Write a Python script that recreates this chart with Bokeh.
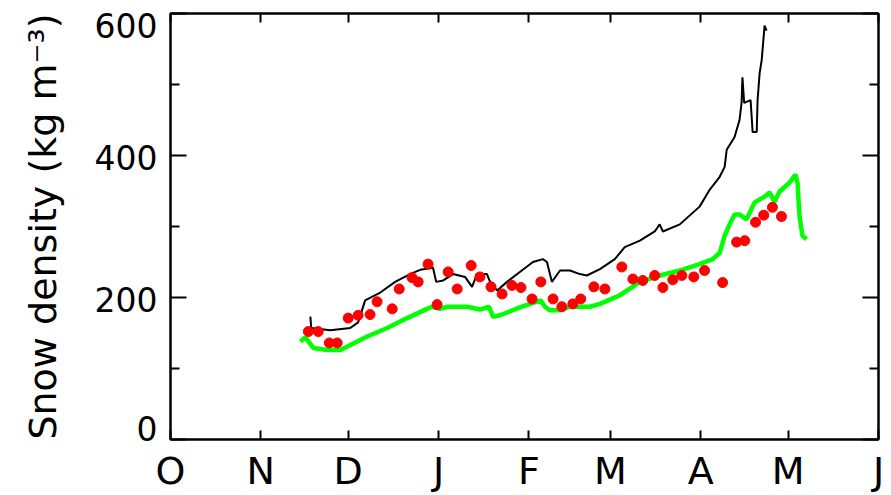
from bokeh.plotting import figure
from bokeh.models import Range1d, LinearAxis, FixedTicker
from bokeh.embed import file_html
from bokeh.resources import INLINE

# ---- data (days since 1 October) ----
month_ticks = [0, 31, 61, 92, 123, 151, 182, 212, 243]
month_labels = ["O", "N", "D", "J", "F", "M", "A", "M", "J"]
y_major = [0, 200, 400, 600]
y_major_labels = ["0", "200", "400", "600"]
y_minor = [100, 300, 500]

model_black_day = [48.0, 48.3, 54.8, 61.7, 64.4, 66.8, 72.0, 77.1, 82.2, 85.7, 90.1, 91.2,
                   93.6, 97.0, 101.1, 103.5, 105.2, 108.6, 109.7, 112.1, 115.5, 119.9, 124.4,
                   127.8, 129.2, 130.9, 133.7, 137.1, 140.5, 142.9, 147.4, 152.5, 155.9, 161.1,
                   166.2, 167.9, 169.0, 174.8, 181.6, 185.1, 188.5, 190.2, 190.9, 193.6, 195.3,
                   196.0, 196.3, 196.9, 199.1, 199.8, 201.2, 201.5, 202.2, 202.9, 203.9, 204.6]
model_black_val = [173, 157, 154, 157, 165, 196, 207, 222, 233, 239, 242, 222,
                   224, 233, 229, 215, 233, 233, 222, 210, 222, 236, 250,
                   254, 250, 222, 238, 238, 233, 231, 240, 254, 271, 280,
                   293, 303, 293, 303, 328, 352, 370, 384, 408, 426, 450,
                   474, 510, 474, 478, 433, 433, 478, 516, 534, 583, 576]

model_green_day = [44.6, 46.3, 49.0, 53.8, 58.3, 60.7, 67.5, 74.4, 81.2, 88.1, 89.8, 92.5,
                   94.9, 101.8, 106.2, 109.3, 110.7, 113.1, 119.9, 123.4, 127.1, 128.5, 130.2,
                   133.7, 137.1, 143.9, 147.4, 154.2, 161.1, 167.9, 174.8, 181.6, 186.1, 188.5,
                   190.2, 191.9, 193.6, 195.3, 197.7, 200.5, 203.9, 205.6, 207.3, 209.0, 212.5,
                   214.5, 215.2, 215.9, 216.9, 218.3]
model_green_val = [138, 144, 129, 126, 126, 131, 145, 157, 171, 184, 187, 184,
                   187, 187, 183, 187, 173, 175, 186, 191, 196, 187, 182,
                   182, 187, 187, 191, 203, 222, 231, 238, 247, 254, 263,
                   287, 303, 317, 317, 310, 334, 342, 348, 335, 349, 362,
                   373, 362, 314, 287, 282]

obs_day = [47.3, 50.7, 54.5, 57.2, 61.0, 64.4, 68.5, 70.9, 76.1, 78.5, 82.9, 85.0, 88.4,
           91.5, 95.3, 98.4, 103.2, 106.2, 110.0, 113.8, 117.2, 120.3, 124.1, 127.1, 131.3,
           134.3, 138.1, 140.8, 145.3, 149.1, 154.9, 158.7, 162.1, 166.2, 169.0, 172.4,
           175.5, 179.6, 183.3, 189.5, 194.3, 197.1, 200.8, 203.6, 206.6, 209.7]
obs_val = [152, 152, 136, 136, 171, 175, 176, 194, 184, 212, 228, 222, 247,
           190, 236, 212, 245, 229, 215, 205, 217, 214, 198, 222, 198,
           187, 191, 198, 215, 212, 243, 226, 224, 231, 214, 225,
           231, 229, 238, 221, 278, 280, 306, 316, 327, 314]

FONT = "DejaVu Sans"
X0, X1 = month_ticks[0], month_ticks[-1]
Y0, Y1 = y_major[0], y_major[-1]

W, H = 891, 495
BL, BR, BT, BB = 170, 13, 13, 53

p = figure(width=W, height=H, output_backend="svg", toolbar_location=None,
           x_range=Range1d(X0, X1), y_range=Range1d(Y0, Y1),
           min_border_left=BL, min_border_right=BR, min_border_top=BT, min_border_bottom=BB)
p.grid.visible = False
p.background_fill_color = "white"
p.border_fill_color = "white"
p.outline_line_color = "black"
p.outline_line_width = 2

xt = FixedTicker(ticks=month_ticks, minor_ticks=[])
yt = FixedTicker(ticks=y_major, minor_ticks=y_minor)

xa = p.xaxis[0]
xa.ticker = xt
xa.major_label_overrides = {t: l for t, l in zip(month_ticks, month_labels)}
xa.major_tick_in = 9
xa.major_tick_out = 0
xa.minor_tick_in = 0
xa.minor_tick_out = 0
xa.axis_line_width = 2
xa.major_tick_line_width = 2
xa.major_label_standoff = 9
xa.major_label_text_font = FONT
xa.major_label_text_font_size = "38px"
xa.major_label_text_color = "black"

# left axis: tick marks only
ya = p.yaxis[0]
ya.ticker = yt
ya.major_tick_in = 16
ya.major_tick_out = 0
ya.minor_tick_in = 9
ya.minor_tick_out = 0
ya.axis_line_width = 2
ya.major_tick_line_width = 2
ya.minor_tick_line_width = 2
ya.major_label_overrides = {t: "" for t in y_major}
ya.major_label_standoff = 0

# second left axis: tick labels (end labels kept within the frame height) + axis title
px_per_unit = (H - BT - BB) / (Y1 - Y0)
def _shift_px(v):
    if v == Y1:
        return -12
    if v == Y0:
        return 11
    return -2
label_pos = [v + _shift_px(v) / px_per_unit for v in y_major]
ylab = LinearAxis(ticker=FixedTicker(ticks=label_pos, minor_ticks=[]),
                  major_label_overrides={pos: l for pos, l in zip(label_pos, y_major_labels)},
                  major_tick_in=0, major_tick_out=0, minor_tick_in=0, minor_tick_out=0,
                  axis_line_color=None, major_tick_line_color=None, minor_tick_line_color=None,
                  major_label_standoff=13, major_label_text_font=FONT,
                  major_label_text_font_size="33px", major_label_text_color="black",
                  axis_label="Snow density (kg m\u207b\u00b3)", axis_label_text_font=FONT,
                  axis_label_text_font_size="38px", axis_label_text_font_style="normal",
                  axis_label_text_color="black", axis_label_standoff=27)
p.add_layout(ylab, "left")

top = LinearAxis(ticker=xt, major_tick_in=9, major_tick_out=0, minor_tick_in=0, minor_tick_out=0,
                 axis_line_width=2, major_tick_line_width=2, major_label_standoff=0,
                 major_label_overrides={t: "" for t in month_ticks})
p.add_layout(top, "above")
right = LinearAxis(ticker=yt, major_tick_in=16, major_tick_out=0, minor_tick_in=9, minor_tick_out=0,
                   axis_line_width=2, major_tick_line_width=2, minor_tick_line_width=2,
                   major_label_standoff=0, major_label_overrides={t: "" for t in y_major})
p.add_layout(right, "right")

p.line(model_black_day, model_black_val, line_color="black", line_width=2)
p.line(model_green_day, model_green_val, line_color="#00ff00", line_width=4.5)
p.scatter(obs_day, obs_val, marker="circle", size=10, fill_color="#ff0000", line_color="#ff0000")

open("out.html", "w").write(file_html(p, INLINE))
